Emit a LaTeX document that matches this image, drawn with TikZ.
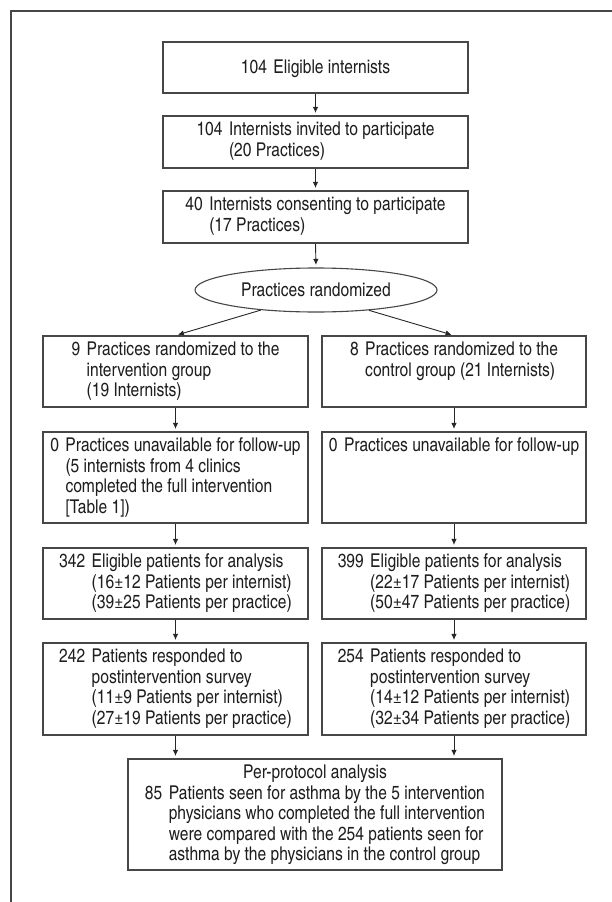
\documentclass[tikz,border=0pt]{standalone}
\usepackage{fontspec}
\setmainfont{texgyreheroscn-regular.otf}
\usetikzlibrary{shapes.geometric,arrows.meta}
\definecolor{linec}{HTML}{474747}
\definecolor{txtc}{HTML}{1E1E1E}
\newcommand{\flowfont}{\fontsize{19}{20.5}\selectfont}
\newcommand{\flowtxt}[4][5.15pt]{\parbox[c][#3][t]{#2}{\flowfont\vspace*{#1}\centering #4\par}}
\newcommand{\numtab}[1]{\begin{tabular}[t]{@{}r@{\hspace{6.5pt}}l@{}}#1\end{tabular}}
\begin{document}
\begin{tikzpicture}[x=1pt,y=-1pt,
  every node/.style={font=\flowfont, text=txtc},
  fbox/.style={draw=linec, line width=1.1pt, inner sep=0pt, rectangle},
  arr/.style={draw=black!85, line width=0.9pt, -{Latex[length=6pt,width=5.5pt]}, shorten >=2.5pt}]
\useasboundingbox (0,0) rectangle (612,902);
\draw[linec, line width=1.2pt] (11,902) -- (11,11) -- (612,11);

\node[fbox] (b1) at (315.5,67.5) {\flowtxt[17.6pt]{305pt}{51pt}{\numtab{104 & Eligible internists}}};
\node[fbox] (b2) at (315.5,142) {\flowtxt{305pt}{52pt}{\numtab{104 & Internists invited to participate\\ & (20 Practices)}}};
\node[fbox] (b3) at (315.5,217) {\flowtxt{305pt}{52pt}{\numtab{40 & Internists consenting to participate\\ & (17 Practices)}}};
\node[ellipse, draw=linec, line width=1.1pt, minimum width=242pt, minimum height=44pt, inner sep=0pt] (e) at (316,290) {Practices randomized};

\node[fbox] (l1) at (175.5,371.5) {\flowtxt{265pt}{71pt}{\numtab{9 & Practices randomized to the\\ & intervention group\\ & (19 Internists)}}};
\node[fbox] (r1) at (454,371.5) {\flowtxt{264pt}{71pt}{\numtab{8 & Practices randomized to the\\ & control group (21 Internists)}}};

\node[fbox] (l2) at (175.5,477.5) {\flowtxt{265pt}{91pt}{\numtab{0 & Practices unavailable for follow-up\\ & (5 internists from 4 clinics\\ & completed the full intervention\\ & [Table 1])}}};
\node[fbox] (r2) at (454,477.5) {\flowtxt{264pt}{91pt}{\numtab{0 & Practices unavailable for follow-up}}};

\node[fbox] (l3) at (175.5,583.5) {\flowtxt{265pt}{71pt}{\numtab{342 & Eligible patients for analysis\\ & (16±12 Patients per internist)\\ & (39±25 Patients per practice)}}};
\node[fbox] (r3) at (454,583.5) {\flowtxt{264pt}{71pt}{\numtab{399 & Eligible patients for analysis\\ & (22±17 Patients per internist)\\ & (50±47 Patients per practice)}}};

\node[fbox] (l4) at (175.5,689) {\flowtxt{265pt}{92pt}{\numtab{242 & Patients responded to\\ & postintervention survey\\ & (11±9 Patients per internist)\\ & (27±19 Patients per practice)}}};
\node[fbox] (r4) at (454,689) {\flowtxt{264pt}{92pt}{\numtab{254 & Patients responded to\\ & postintervention survey\\ & (14±12 Patients per internist)\\ & (32±34 Patients per practice)}}};

\node[fbox] (bb) at (315,814.5) {\flowtxt{374pt}{111pt}{\strut Per-protocol analysis\par \numtab{85 & Patients seen for asthma by the 5 intervention\\ & physicians who completed the full intervention\\ & were compared with the 254 patients seen for\\ & asthma by the physicians in the control group}}};

\draw[arr] (b1.south) -- (b2.north);
\draw[arr] (b2.south) -- (b3.north);
\draw[arr] (b3.south) -- (e.north);
\draw[arr] (e.200.7) -- (l1.north);
\draw[arr] (e.339.3) -- (r1.north);
\draw[arr] (l1.south) -- (l2.north);
\draw[arr] (r1.south) -- (r2.north);
\draw[arr] (l2.south) -- (l3.north);
\draw[arr] (r2.south) -- (r3.north);
\draw[arr] (l3.south) -- (l4.north);
\draw[arr] (r3.south) -- (r4.north);
\draw[arr] (l4.south) -- (l4.south |- bb.north);
\draw[arr] (r4.south) -- (r4.south |- bb.north);
\end{tikzpicture}
\end{document}
